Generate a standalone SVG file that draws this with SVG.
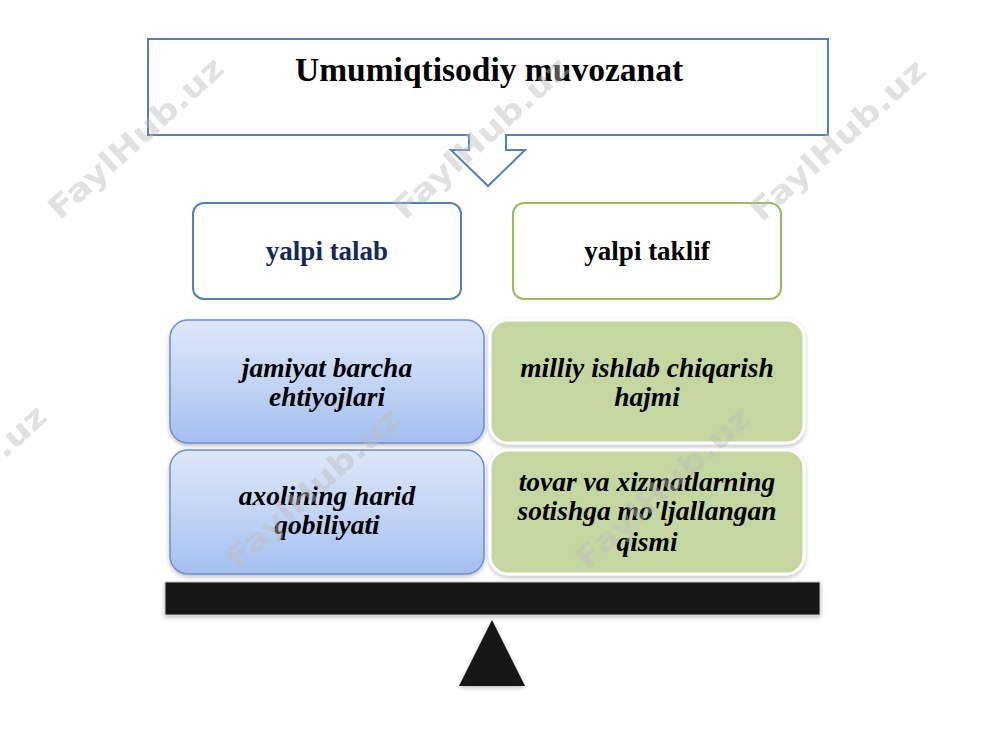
<svg xmlns="http://www.w3.org/2000/svg" width="1000" height="750" viewBox="0 0 1000 750">
<style>
.title{font-family:"Liberation Serif","Times New Roman",serif;font-weight:bold;font-size:33.5px;fill:#000;text-anchor:middle}
.head{font-family:"Liberation Serif","Times New Roman",serif;font-weight:bold;font-size:27px;text-anchor:middle}
.item{font-family:"Liberation Serif","Times New Roman",serif;font-weight:bold;font-style:italic;font-size:27.5px;fill:#000;text-anchor:middle}
.blue{fill:url(#gb);stroke:#6f8fcf;stroke-width:1.5}
.green{fill:#c5d7a0;stroke:#ffffff;stroke-width:3}
.wm{font-family:"DejaVu Sans","Liberation Sans",sans-serif;font-weight:bold;font-size:31px;fill:#bdbdbd;text-anchor:middle;opacity:0.45}
</style>
<defs>
<linearGradient id="gb" x1="0" y1="0" x2="0" y2="1">
<stop offset="0" stop-color="#dde7f8"/>
<stop offset="0.5" stop-color="#c3d5f5"/>
<stop offset="1" stop-color="#a3bff0"/>
</linearGradient>
<filter id="sh" x="-10%" y="-10%" width="120%" height="130%">
<feDropShadow dx="0" dy="2" stdDeviation="2" flood-color="#000" flood-opacity="0.25"/>
</filter>
</defs>
<rect width="1000" height="750" fill="#ffffff"/>

<g id="title-callout">
<path d="M148,39 H828 V135 H506 V150 H525 L488,186 L451,150 H469 V135 H148 Z" fill="#ffffff" stroke="#4f81bd" stroke-width="2"/>
<text class="title" x="489" y="81">Umumiqtisodiy muvozanat</text>
</g>

<g id="connectors"></g>

<g id="yalpi-talab">
<rect x="193" y="203" width="268" height="96" rx="11" fill="#ffffff" stroke="#4f81bd" stroke-width="2"/>
<text class="head" x="327" y="260" fill="#13285e">yalpi talab</text>
</g>
<g id="yalpi-taklif">
<rect x="513" y="203" width="268" height="96" rx="11" fill="#ffffff" stroke="#9bbb59" stroke-width="2"/>
<text class="head" x="647" y="260" fill="#000">yalpi taklif</text>
</g>

<g id="jamiyat">
<rect class="blue" x="170" y="320" width="314" height="123" rx="18" filter="url(#sh)"/>
<text class="item" x="327" y="377">jamiyat barcha</text>
<text class="item" x="327" y="406">ehtiyojlari</text>
</g>
<g id="axolining">
<rect class="blue" x="170" y="450" width="314" height="124" rx="18" filter="url(#sh)"/>
<text class="item" x="327" y="505">axolining harid</text>
<text class="item" x="327" y="534">qobiliyati</text>
</g>
<g id="milliy">
<rect class="green" x="490" y="320" width="314" height="123" rx="18" filter="url(#sh)"/>
<text class="item" x="647" y="377">milliy ishlab chiqarish</text>
<text class="item" x="647" y="406">hajmi</text>
</g>
<g id="tovar">
<rect class="green" x="490" y="450" width="314" height="124" rx="18" filter="url(#sh)"/>
<text class="item" x="647" y="491">tovar va xizmatlarning</text>
<text class="item" x="647" y="520">sotishga mo'ljallangan</text>
<text class="item" x="647" y="551">qismi</text>
</g>

<g id="scale">
<rect x="165" y="582" width="655" height="33" fill="#141414" stroke="#c8c8d0" stroke-width="1" filter="url(#sh)"/>
<polygon points="492,620 525,686 459,686" fill="#141414" filter="url(#sh)"/>
</g>

<g id="watermarks">
<text class="wm" transform="translate(143,146) rotate(-42)" textLength="224" lengthAdjust="spacingAndGlyphs">FaylHub.uz</text>
<text class="wm" transform="translate(488,146) rotate(-42)" textLength="224" lengthAdjust="spacingAndGlyphs">FaylHub.uz</text>
<text class="wm" transform="translate(845,148) rotate(-42)" textLength="224" lengthAdjust="spacingAndGlyphs">FaylHub.uz</text>
<text class="wm" transform="translate(-34,494) rotate(-42)" textLength="224" lengthAdjust="spacingAndGlyphs">FaylHub.uz</text>
<text class="wm" transform="translate(320,496) rotate(-42)" textLength="224" lengthAdjust="spacingAndGlyphs">FaylHub.uz</text>
<text class="wm" transform="translate(670,496) rotate(-42)" textLength="224" lengthAdjust="spacingAndGlyphs">FaylHub.uz</text>
</g>
</svg>
